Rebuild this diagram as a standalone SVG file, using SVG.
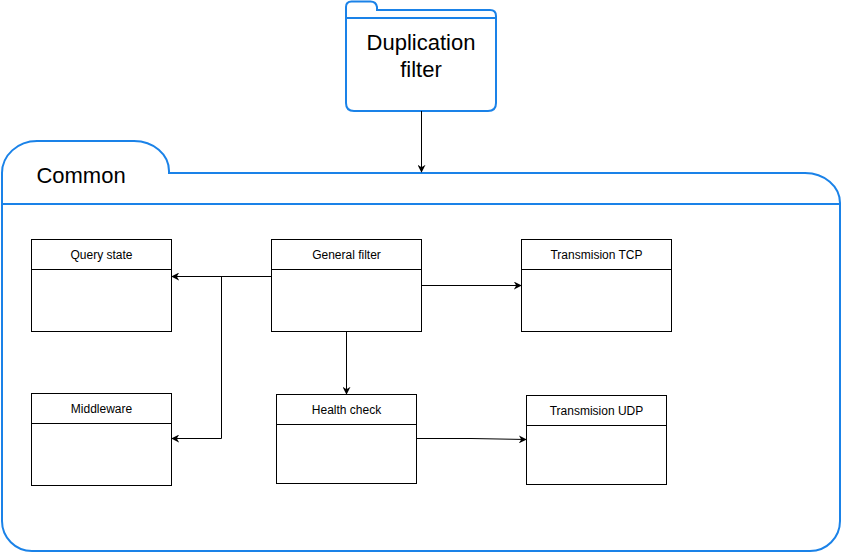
<svg xmlns="http://www.w3.org/2000/svg" width="842" height="552" viewBox="0 0 842 552">
<defs>
<style>
.folder{fill:#ffffff;stroke:#1a82e8;stroke-width:2}
.fline{stroke:#1a82e8;stroke-width:2;fill:none}
.box{fill:#ffffff;stroke:#000000;stroke-width:1}
.hdr{stroke:#000000;stroke-width:1;fill:none}
.t{font-family:"Liberation Sans",Arial,sans-serif;font-size:12px;fill:#000000;text-anchor:middle}
.big{font-family:"Liberation Sans",Arial,sans-serif;font-size:22px;fill:#000000;text-anchor:middle}
.conn{stroke:#000000;stroke-width:1;fill:none}
</style>
<marker id="arr" viewBox="0 0 10 10" refX="9" refY="5" markerWidth="8" markerHeight="8" markerUnits="userSpaceOnUse" orient="auto">
<path d="M0,0 L10,5 L0,10 L3,5 Z" fill="#000000"/>
</marker>
</defs>
<rect width="842" height="552" fill="#ffffff"/>
<g id="duplication-filter">
<path class="folder" d="M346,103 L346,7 Q346,1.5 351.5,1.5 L370.5,1.5 Q376,1.5 377,7 L377,10 L490,10 Q496,10 496,16 L496,103 Q496,111 488,111 L354,111 Q346,111 346,103 Z"/>
<line class="fline" x1="346" y1="18" x2="496" y2="18"/>
<text class="big" x="421" y="50">Duplication</text>
<text class="big" x="421" y="77">filter</text>
</g>
<g id="common">
<path class="folder" d="M2,521 L2,173 A35,32 0 0 1 37,141 L134,141 A35,30 0 0 1 169,171 L169,173 L805,173 A35,30 0 0 1 840,203 L840,521 A30,30 0 0 1 810,551 L32,551 A30,30 0 0 1 2,521 Z"/>
<line class="fline" x1="2" y1="204" x2="840" y2="204"/>
<text class="big" x="81" y="183">Common</text>
</g>
<g id="query-state">
<rect class="box" x="31.5" y="239.5" width="140" height="92"/>
<line class="hdr" x1="31.5" y1="269.5" x2="171.5" y2="269.5"/>
<text class="t" x="101.5" y="259">Query state</text>
</g>
<g id="general-filter">
<rect class="box" x="271.5" y="239.5" width="150" height="92"/>
<line class="hdr" x1="271.5" y1="269.5" x2="421.5" y2="269.5"/>
<text class="t" x="346.5" y="259">General filter</text>
</g>
<g id="transmision-tcp">
<rect class="box" x="521.5" y="239.5" width="150" height="92"/>
<line class="hdr" x1="521.5" y1="269.5" x2="671.5" y2="269.5"/>
<text class="t" x="596.5" y="259">Transmision TCP</text>
</g>
<g id="middleware">
<rect class="box" x="31.5" y="393.5" width="140" height="92"/>
<line class="hdr" x1="31.5" y1="423.5" x2="171.5" y2="423.5"/>
<text class="t" x="101.5" y="413">Middleware</text>
</g>
<g id="health-check">
<rect class="box" x="276.5" y="394.5" width="140" height="89"/>
<line class="hdr" x1="276.5" y1="424.5" x2="416.5" y2="424.5"/>
<text class="t" x="346.5" y="414">Health check</text>
</g>
<g id="transmision-udp">
<rect class="box" x="526.5" y="395.5" width="140" height="89"/>
<line class="hdr" x1="526.5" y1="425.5" x2="666.5" y2="425.5"/>
<text class="t" x="596.5" y="415">Transmision UDP</text>
</g>
<g id="connectors">
<path class="conn" d="M421.5,111 L421.5,172" marker-end="url(#arr)"/>
<path class="conn" d="M271.5,276.5 L172,276.5" marker-end="url(#arr)"/>
<path class="conn" d="M221.5,276.5 L221.5,438.5 L172,438.5" marker-end="url(#arr)"/>
<path class="conn" d="M421.5,285.5 L521,285.5" marker-end="url(#arr)"/>
<path class="conn" d="M346.5,331.5 L346.5,394" marker-end="url(#arr)"/>
<path class="conn" d="M416.5,438.5 L471,438.5 L526,439.5" marker-end="url(#arr)"/>
</g>
</svg>
